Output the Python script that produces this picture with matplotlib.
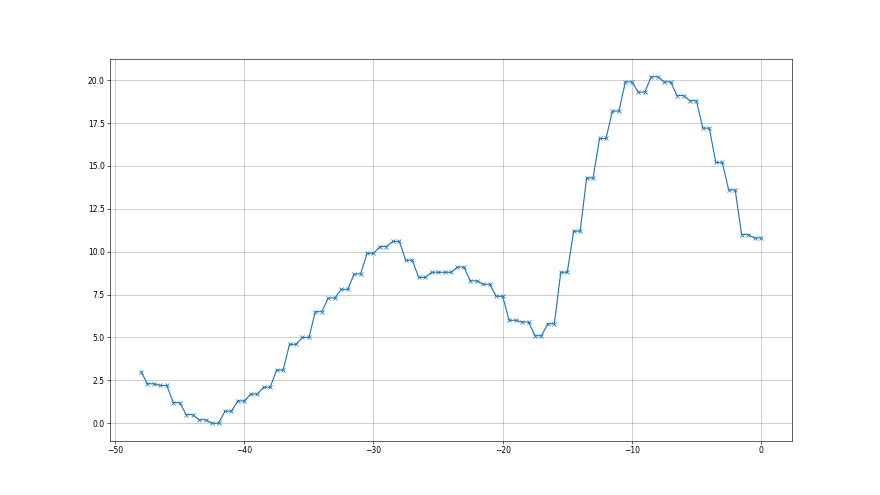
import numpy as np
import matplotlib
matplotlib.use("Agg")
import matplotlib.pyplot as plt

# value per whole step, from -48 up to 0 (each step after the first is sampled twice)
first_x = -48
first_val = 3.0
step_vals = [
    2.3, 2.2, 1.2, 0.5, 0.2, 0.0, 0.7, 1.3, 1.7, 2.1,
    3.1, 4.6, 5.0, 6.5, 7.3, 7.8, 8.7, 9.9, 10.3, 10.6,
    9.5, 8.5, 8.8, 8.8, 9.1, 8.3, 8.1, 7.4, 6.0, 5.9,
    5.1, 5.8, 8.8, 11.2, 14.3, 16.6, 18.2, 19.9, 19.3, 20.2,
    19.9, 19.1, 18.8, 17.2, 15.2, 13.6, 11.0, 10.8,
]

xs = [first_x]
ys = [first_val]
for i, v in enumerate(step_vals):
    k = first_x + 1 + i
    xs += [k - 0.5, k]
    ys += [v, v]

fig, ax = plt.subplots(figsize=(16, 9), dpi=55)
ax.plot(xs, ys, marker="x")
ax.grid(True)

plt.savefig("out.png", dpi=55)
plt.close(fig)
